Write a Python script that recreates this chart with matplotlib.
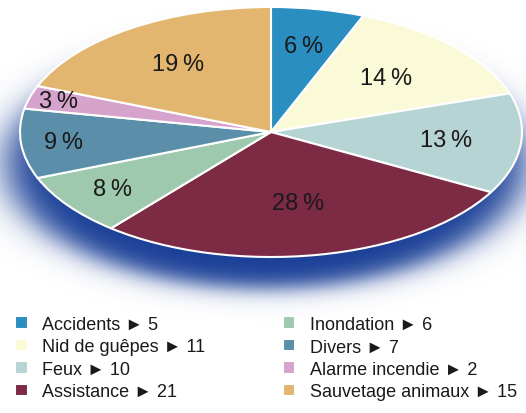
import numpy as np
import matplotlib
matplotlib.use("Agg")
import matplotlib.pyplot as plt
from matplotlib import font_manager

# données
categories = ["Accidents", "Nid de guêpes", "Feux", "Assistance",
              "Inondation", "Divers", "Alarme incendie", "Sauvetage animaux"]
counts = [5, 11, 10, 21, 6, 7, 2, 15]
percents = [6, 14, 13, 28, 8, 9, 3, 19]

colors = ["#2a8ec0", "#fbfad8", "#b6d4d4", "#7d2a45",
          "#9fc9ae", "#5b8fa9", "#d5a3cb", "#e2b66f"]

names = {f.name for f in font_manager.fontManager.ttflist}
main_font = "Liberation Sans"
for cand in ["Liberation Sans Narrow", "DejaVu Sans Condensed"]:
    if cand in names:
        main_font = cand
        break
plt.rcParams['font.family'] = [main_font, 'DejaVu Sans']

W, H = 526, 414
cx, cy, a, b = 271, 133, 251, 125   # ellipse du camembert en pixels

fig = plt.figure(figsize=(W / 100, H / 100), dpi=100)
ax = fig.add_axes([0, 0, 1, 1])
xlim = ((0 - cx) / a, (W - cx) / a)
ylim = ((cy - H) / b, cy / b)

# ombre floue bleue
xs = np.linspace(xlim[0], xlim[1], 600)
ys = np.linspace(ylim[0], ylim[1], 500)
X, Y = np.meshgrid(xs, ys)
d = np.sqrt(((X + 0.02) / 1.03) ** 2 + ((Y + 0.25) / 1.0) ** 2)
alpha = 1 / (1 + np.exp((d - 1) / 0.05))
img = np.zeros((len(ys), len(xs), 4))
img[..., 0] = 24 / 255
img[..., 1] = 62 / 255
img[..., 2] = 150 / 255
img[..., 3] = alpha
ax.imshow(img, extent=(xlim[0], xlim[1], ylim[0], ylim[1]), origin="lower",
          aspect="auto", zorder=0, interpolation="bilinear")

wedges, _ = ax.pie(percents, colors=colors, startangle=90, counterclock=False,
                   radius=1.0, wedgeprops=dict(edgecolor="white", linewidth=1.5))
for w in wedges:
    w.set_zorder(2)

# étiquettes en pourcentage
label_r = [0.70, 0.63, 0.70, 0.58, 0.78, 0.83, 0.88, 0.66]
for w, p, r in zip(wedges, percents, label_r):
    mid = np.deg2rad((w.theta1 + w.theta2) / 2)
    ax.text(r * np.cos(mid), r * np.sin(mid), f"{p}\u2009%", ha="center", va="center",
            fontsize=17, color="#1a1a1a", zorder=3)

ax.set_xlim(*xlim)
ax.set_ylim(*ylim)
ax.set_aspect("auto")
ax.axis("off")

labels = [f"{c} \u25ba {n}" for c, n in zip(categories, counts)]
ax.legend(wedges, labels, ncol=2, loc="upper left", frameon=False,
          bbox_to_anchor=(15 / W, 1 - 317 / H), bbox_transform=fig.transFigure,
          fontsize=13, handlelength=0.7, handleheight=0.7, handletextpad=0.8,
          labelspacing=0.3, columnspacing=4.3, borderpad=0, borderaxespad=0,
          labelcolor="#1a1a1a")

fig.savefig("out.png", dpi=100)
